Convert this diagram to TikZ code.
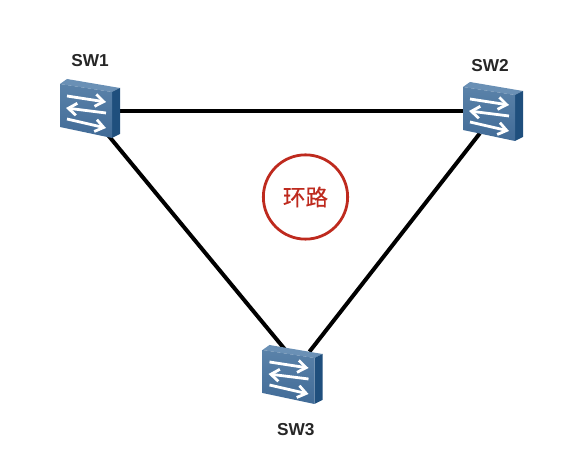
\documentclass[tikz,border=0pt]{standalone}
\usepackage{fontspec}
\setmainfont{Liberation Sans}
\newfontfamily\cjk[FakeBold=0.4]{Noto Sans CJK SC}
\usetikzlibrary{arrows.meta, positioning}
\definecolor{swFrontA}{HTML}{5A82A9}
\definecolor{swFrontB}{HTML}{416B97}
\definecolor{swTop}{HTML}{6A90B5}
\definecolor{swSide}{HTML}{1F4F7D}
\definecolor{loopRed}{HTML}{BE2A1E}
\tikzset{
  swBox/.style={rectangle, minimum width=1.53cm, minimum height=1.48cm, inner sep=0pt},
  swLabel/.style={font=\bfseries\fontsize{13}{14}\selectfont, text=black!85, inner sep=0pt},
  linkLine/.style={black, line width=3pt, shorten >=-0.2cm, shorten <=-0.2cm},
  swArrow/.style={-{Straight Barb[length=2.2mm, width=3.2mm]}, white, line width=2.1pt},
  loopBox/.style={circle, draw=loopRed, line width=2.1pt, text=loopRed, minimum size=2.23cm,
                  inner sep=0pt, font=\cjk\fontsize{17}{20}\selectfont},
}
% one switch icon, drawn over its node
\newcommand{\swIcon}[1]{
  \begin{scope}[shift={(#1.center)}]
    \fill[swTop] (-30,-24) -- (-23,-29) -- (30,-20) -- (22,-16) -- cycle;
    \fill[swSide] (22,-16) -- (30,-20) -- (30,26) -- (22,30) -- cycle;
    \shade[top color=swFrontA, bottom color=swFrontB] (-30,-24) -- (22,-16) -- (22,30) -- (-30,19) -- cycle;
    \draw[swArrow] (-23,-12) -- (16,-6);
    \draw[swArrow] (16,5) -- (-24,0);
    \draw[swArrow] (-23,11) -- (16,20);
  \end{scope}
}
\begin{document}
\begin{tikzpicture}[x=0.02646cm, y=-0.02646cm]
    \useasboundingbox (0,0) rectangle (561,458);
    \node[swBox] (sw1) at (90,108) {};
    \node[swBox] (sw2) at (493,111) {};
    \node[swBox] (sw3) at (292.5,374) {};
    \node[swLabel, above=0.33cm of sw1] (sw1lbl) {SW1};
    \node[swLabel, above=0.275cm of sw2, xshift=-0.08cm] (sw2lbl) {SW2};
    \node[swLabel, below=0.56cm of sw3, xshift=0.085cm] (sw3lbl) {SW3};
    \node[loopBox] (loopc) at (305.5,197) {环路};
    \draw[linkLine] (sw1.center) ++(0,3) -- (sw2.center);
    \draw[linkLine] ([xshift=-0.27cm]sw1.south east) -- ([xshift=-0.28cm]sw3.north);
    \draw[linkLine] ([xshift=-0.47cm]sw2.south) -- ([xshift=0.57cm]sw3.north);
    \swIcon{sw1}
    \swIcon{sw2}
    \swIcon{sw3}
  \end{tikzpicture}
\end{document}
